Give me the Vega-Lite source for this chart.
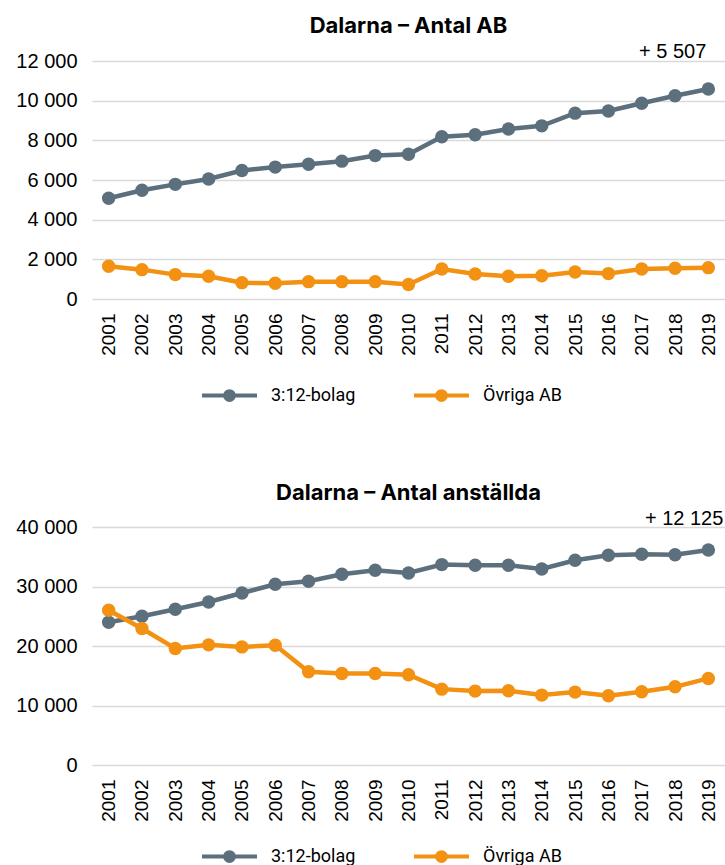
{
  "$schema": "https://vega.github.io/schema/vega-lite/v6.json",
  "padding": {"left": 15, "top": 15, "right": 0, "bottom": 0},
  "background": "white",
  "datasets": {
    "ab": [
      {"year": "2001", "serie": "3:12-bolag", "value": 5080},
      {"year": "2002", "serie": "3:12-bolag", "value": 5480},
      {"year": "2003", "serie": "3:12-bolag", "value": 5780},
      {"year": "2004", "serie": "3:12-bolag", "value": 6050},
      {"year": "2005", "serie": "3:12-bolag", "value": 6480},
      {"year": "2006", "serie": "3:12-bolag", "value": 6650},
      {"year": "2007", "serie": "3:12-bolag", "value": 6790},
      {"year": "2008", "serie": "3:12-bolag", "value": 6950},
      {"year": "2009", "serie": "3:12-bolag", "value": 7230},
      {"year": "2010", "serie": "3:12-bolag", "value": 7300},
      {"year": "2011", "serie": "3:12-bolag", "value": 8180},
      {"year": "2012", "serie": "3:12-bolag", "value": 8280},
      {"year": "2013", "serie": "3:12-bolag", "value": 8570},
      {"year": "2014", "serie": "3:12-bolag", "value": 8730},
      {"year": "2015", "serie": "3:12-bolag", "value": 9370},
      {"year": "2016", "serie": "3:12-bolag", "value": 9480},
      {"year": "2017", "serie": "3:12-bolag", "value": 9870},
      {"year": "2018", "serie": "3:12-bolag", "value": 10250},
      {"year": "2019", "serie": "3:12-bolag", "value": 10587},
      {"year": "2001", "serie": "Övriga AB", "value": 1650},
      {"year": "2002", "serie": "Övriga AB", "value": 1480},
      {"year": "2003", "serie": "Övriga AB", "value": 1230},
      {"year": "2004", "serie": "Övriga AB", "value": 1145},
      {"year": "2005", "serie": "Övriga AB", "value": 825},
      {"year": "2006", "serie": "Övriga AB", "value": 790},
      {"year": "2007", "serie": "Övriga AB", "value": 875},
      {"year": "2008", "serie": "Övriga AB", "value": 875},
      {"year": "2009", "serie": "Övriga AB", "value": 875},
      {"year": "2010", "serie": "Övriga AB", "value": 735},
      {"year": "2011", "serie": "Övriga AB", "value": 1510},
      {"year": "2012", "serie": "Övriga AB", "value": 1260},
      {"year": "2013", "serie": "Övriga AB", "value": 1145},
      {"year": "2014", "serie": "Övriga AB", "value": 1175},
      {"year": "2015", "serie": "Övriga AB", "value": 1360},
      {"year": "2016", "serie": "Övriga AB", "value": 1280},
      {"year": "2017", "serie": "Övriga AB", "value": 1510},
      {"year": "2018", "serie": "Övriga AB", "value": 1550},
      {"year": "2019", "serie": "Övriga AB", "value": 1580}
    ],
    "anst": [
      {"year": "2001", "serie": "3:12-bolag", "value": 24000},
      {"year": "2002", "serie": "3:12-bolag", "value": 25000},
      {"year": "2003", "serie": "3:12-bolag", "value": 26180},
      {"year": "2004", "serie": "3:12-bolag", "value": 27400},
      {"year": "2005", "serie": "3:12-bolag", "value": 28910},
      {"year": "2006", "serie": "3:12-bolag", "value": 30370},
      {"year": "2007", "serie": "3:12-bolag", "value": 30880},
      {"year": "2008", "serie": "3:12-bolag", "value": 32050},
      {"year": "2009", "serie": "3:12-bolag", "value": 32720},
      {"year": "2010", "serie": "3:12-bolag", "value": 32270},
      {"year": "2011", "serie": "3:12-bolag", "value": 33680},
      {"year": "2012", "serie": "3:12-bolag", "value": 33560},
      {"year": "2013", "serie": "3:12-bolag", "value": 33560},
      {"year": "2014", "serie": "3:12-bolag", "value": 32940},
      {"year": "2015", "serie": "3:12-bolag", "value": 34400},
      {"year": "2016", "serie": "3:12-bolag", "value": 35240},
      {"year": "2017", "serie": "3:12-bolag", "value": 35410},
      {"year": "2018", "serie": "3:12-bolag", "value": 35350},
      {"year": "2019", "serie": "3:12-bolag", "value": 36125},
      {"year": "2001", "serie": "Övriga AB", "value": 26010},
      {"year": "2002", "serie": "Övriga AB", "value": 22930},
      {"year": "2003", "serie": "Övriga AB", "value": 19580},
      {"year": "2004", "serie": "Övriga AB", "value": 20190},
      {"year": "2005", "serie": "Övriga AB", "value": 19850},
      {"year": "2006", "serie": "Övriga AB", "value": 20140},
      {"year": "2007", "serie": "Övriga AB", "value": 15660},
      {"year": "2008", "serie": "Övriga AB", "value": 15380},
      {"year": "2009", "serie": "Övriga AB", "value": 15380},
      {"year": "2010", "serie": "Övriga AB", "value": 15180},
      {"year": "2011", "serie": "Övriga AB", "value": 12750},
      {"year": "2012", "serie": "Övriga AB", "value": 12420},
      {"year": "2013", "serie": "Övriga AB", "value": 12470},
      {"year": "2014", "serie": "Övriga AB", "value": 11750},
      {"year": "2015", "serie": "Övriga AB", "value": 12250},
      {"year": "2016", "serie": "Övriga AB", "value": 11630},
      {"year": "2017", "serie": "Övriga AB", "value": 12300},
      {"year": "2018", "serie": "Övriga AB", "value": 13140},
      {"year": "2019", "serie": "Övriga AB", "value": 14550}
    ],
    "notes": [
      {"chart": "ab", "year": "2019", "label": "+ 5 507"},
      {"chart": "anst", "year": "2019", "label": "+ 12 125"}
    ]
  },
  "vconcat": [
    {
      "width": 633,
      "height": 238,
      "title": {"text": "Dalarna – Antal AB"},
      "layer": [
        {
          "data": {"name": "ab"},
          "mark": {"type": "line", "strokeWidth": 4.5, "point": {"filled": true, "size": 180, "opacity": 1}},
          "encoding": {
            "x": {"field": "year", "type": "ordinal", "scale": {"type": "point", "padding": 0.5}, "axis": {"title": null}},
            "y": {"field": "value", "type": "quantitative", "scale": {"domain": [0, 12000]}, "axis": {"title": null, "values": [0, 2000, 4000, 6000, 8000, 10000, 12000], "labelOverlap": false}},
            "color": {"field": "serie", "type": "nominal", "scale": {"domain": ["3:12-bolag", "Övriga AB"], "range": ["#5B6F7D", "#F39112"]}, "legend": {"title": null, "orient": "none", "legendX": 108, "legendY": 305}}
          }
        },
        {
          "data": {"name": "notes"},
          "transform": [{"filter": "datum.chart === 'ab'"}],
          "mark": {"type": "text", "align": "right", "baseline": "alphabetic", "dx": -2, "dy": -3, "font": "Liberation Sans", "fontSize": 20, "color": "#000000"},
          "encoding": {
            "x": {"field": "year", "type": "ordinal", "axis": {"title": null}},
            "y": {"datum": 12000, "type": "quantitative", "axis": {"title": null, "values": [0, 2000, 4000, 6000, 8000, 10000, 12000], "labelOverlap": false}},
            "text": {"field": "label"}
          }
        }
      ]
    },
    {
      "width": 633,
      "height": 238,
      "title": {"text": "Dalarna – Antal anställda"},
      "layer": [
        {
          "data": {"name": "anst"},
          "mark": {"type": "line", "strokeWidth": 4.5, "point": {"filled": true, "size": 180, "opacity": 1}},
          "encoding": {
            "x": {"field": "year", "type": "ordinal", "scale": {"type": "point", "padding": 0.5}, "axis": {"title": null}},
            "y": {"field": "value", "type": "quantitative", "scale": {"domain": [0, 40000]}, "axis": {"title": null, "values": [0, 10000, 20000, 30000, 40000], "labelOverlap": false}},
            "color": {"field": "serie", "type": "nominal", "scale": {"domain": ["3:12-bolag", "Övriga AB"], "range": ["#5B6F7D", "#F39112"]}, "legend": {"title": null, "orient": "none", "legendX": 108, "legendY": 300}}
          }
        },
        {
          "data": {"name": "notes"},
          "transform": [{"filter": "datum.chart === 'anst'"}],
          "mark": {"type": "text", "align": "right", "baseline": "alphabetic", "dx": 15, "dy": -2, "font": "Liberation Sans", "fontSize": 20, "color": "#000000"},
          "encoding": {
            "x": {"field": "year", "type": "ordinal", "axis": {"title": null}},
            "y": {"datum": 40000, "type": "quantitative", "axis": {"title": null, "values": [0, 10000, 20000, 30000, 40000], "labelOverlap": false}},
            "text": {"field": "label"}
          }
        }
      ]
    }
  ],
  "spacing": 74,
  "resolve": {"scale": {"color": "independent"}, "legend": {"color": "independent"}},
  "config": {
    "view": {"stroke": null},
    "title": {"font": "Inter", "fontSize": 22, "fontWeight": "bold", "color": "#000000", "anchor": "middle", "offset": 4},
    "axis": {"labelFont": "Liberation Sans", "labelFontSize": 19, "labelColor": "#000000", "ticks": false, "domain": false},
    "axisX": {"labelAngle": -90, "labelAlign": "right", "labelBaseline": "middle", "labelPadding": 14, "grid": false},
    "axisY": {"grid": true, "gridColor": "#D9D9D9", "gridWidth": 1.5, "labelPadding": 15, "labelFontSize": 20, "labelExpr": "replace(format(datum.value, ','), regexp(',', 'g'), ' ')"},
    "legend": {
      "direction": "horizontal",
      "labelFont": "Roboto",
      "labelFontSize": 18,
      "labelColor": "#000000",
      "symbolType": "M-1,0 H1 M0.16,0 A0.16,0.16 0 1,1 -0.16,0 A0.16,0.16 0 1,1 0.16,0 Z",
      "symbolSize": 3025,
      "symbolStrokeWidth": 4,
      "labelOffset": 12,
      "columnPadding": 50
    }
  }
}
